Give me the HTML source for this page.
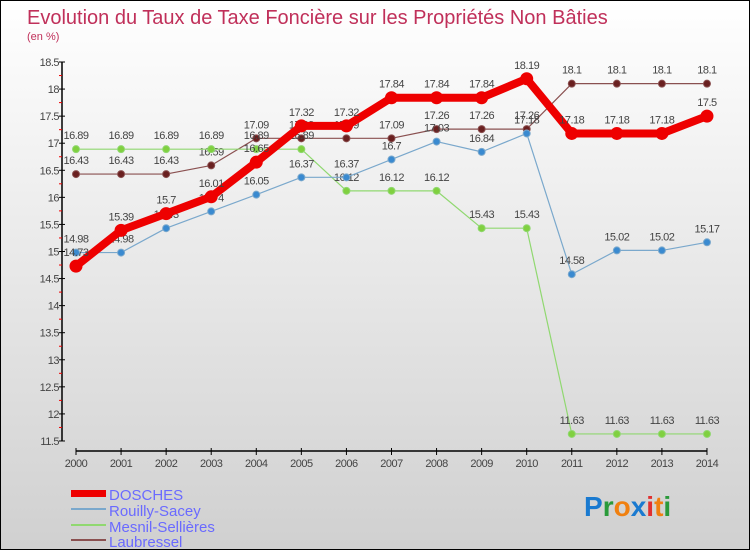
<!DOCTYPE html>
<html><head><meta charset="utf-8"><style>
body{margin:0}
#c{width:750px;height:550px;position:relative;box-sizing:border-box;border:1px solid #000;background:linear-gradient(#fff,#d0d0d0);font-family:"Liberation Sans",sans-serif;overflow:hidden}
</style></head><body>
<div id="c">
<svg id="s" width="750" height="550" style="position:absolute;left:0;top:0">
<text x="26" y="23" font-size="20" fill="#c0305a">Evolution du Taux de Taxe Foncière sur les Propriétés Non Bâties</text>
<text x="26" y="39" font-size="11" fill="#c0305a">(en %)</text>
<g id="g"></g>
<g font-size="15" fill="#6a6aff">
<rect x="70" y="489" width="35" height="7" fill="#e00"/>
<text x="108" y="499">DOSCHES</text>
<rect x="70" y="507" width="35" height="2" fill="#7aa8cc"/>
<text x="108" y="515">Rouilly-Sacey</text>
<rect x="70" y="523" width="35" height="2" fill="#90d870"/>
<text x="108" y="531">Mesnil-Sellières</text>
<rect x="70" y="538" width="35" height="2" fill="#8a5050"/>
<text x="108" y="546">Laubressel</text>
</g>
<g font-size="28" font-weight="bold">
<text x="583" y="515"><tspan fill="#1a7ad0">P</tspan><tspan fill="#2a9a3a">r</tspan><tspan fill="#f08010">o</tspan><tspan fill="#1a7ad0">x</tspan><tspan fill="#e03030">i</tspan><tspan fill="#f08010">t</tspan><tspan fill="#2a9a3a">i</tspan></text>
</g>
</svg>
</div>
<script>
const years=[2000,2001,2002,2003,2004,2005,2006,2007,2008,2009,2010,2011,2012,2013,2014];
const dosches=[14.73,15.39,15.7,16.01,16.65,17.32,17.32,17.84,17.84,17.84,18.19,17.18,17.18,17.18,17.5];
const rouilly=[14.98,14.98,15.43,15.74,16.05,16.37,16.37,16.7,17.03,16.84,17.18,14.58,15.02,15.02,15.17];
const mesnil=[16.89,16.89,16.89,16.89,16.89,16.89,16.12,16.12,16.12,15.43,15.43,11.63,11.63,11.63,11.63];
const laub=[16.43,16.43,16.43,16.59,17.09,17.09,17.09,17.09,17.26,17.26,17.26,18.1,18.1,18.1,18.1];
const yTicks=[11.5,12,12.5,13,13.5,14,14.5,15,15.5,16,16.5,17,17.5,18,18.5];
const NS="http://www.w3.org/2000/svg";
const g=document.getElementById('g');
const X=i=>75+i*45.07;
const Y=v=>61+(18.5-v)*54.14;
function mk(t,a,p){const e=document.createElementNS(NS,t);for(const k in a)e.setAttribute(k,a[k]);(p||g).appendChild(e);return e;}
// axes
let ya=mk('line',{x1:61,y1:61,x2:61,y2:440,stroke:'#000','stroke-width':1.5});


let xa=mk('line',{x1:75,y1:450,x2:706,y2:450,stroke:'#000','stroke-width':1.5});


yTicks.forEach(v=>{
  mk('line',{x1:58,y1:Y(v),x2:64,y2:Y(v),stroke:'#000'});
  if(v<18.5)mk('line',{x1:58,y1:Y(v+0.25),x2:61,y2:Y(v+0.25),stroke:'#e00'});
  const t=mk('text',{x:58,y:Y(v)+4,'font-size':11,'text-anchor':'end',fill:'#444','letter-spacing':'-0.5'});
  t.textContent=v;
  
  
});
years.forEach((yr,i)=>{
  mk('line',{x1:X(i),y1:447,x2:X(i),y2:454,stroke:'#000'});
  const t=mk('text',{x:X(i),y:466,'font-size':11,'text-anchor':'middle',fill:'#444','letter-spacing':'-0.5'});
  t.textContent=yr;
  
  
});
function series(vals,color,w,r,dot,name){
  const pl=mk('polyline',{points:vals.map((v,i)=>X(i)+','+Y(v)).join(' '),fill:'none',stroke:color,'stroke-width':w,'stroke-linejoin':'round'});
  
  
  vals.forEach((v,i)=>{
    const c=mk('circle',{cx:X(i),cy:Y(v),r:r,fill:dot,stroke:color,'stroke-width':1});
    
    
    const t=mk('text',{x:X(i),y:Y(v)-10,'font-size':11,'text-anchor':'middle',fill:'#444','letter-spacing':'-0.5'});
    t.textContent=v;
    
    
  });
}
series(laub,'#8a5050',1.2,3.5,'#6a2020','laubressel');
series(mesnil,'#90d870',1.2,3.5,'#80d040','mesnil');
series(rouilly,'#7aa8cc',1.2,3.5,'#3a8ad0','rouilly');
series(dosches,'#e00',8,6,'#e00','dosches');
</script>
</body></html>
